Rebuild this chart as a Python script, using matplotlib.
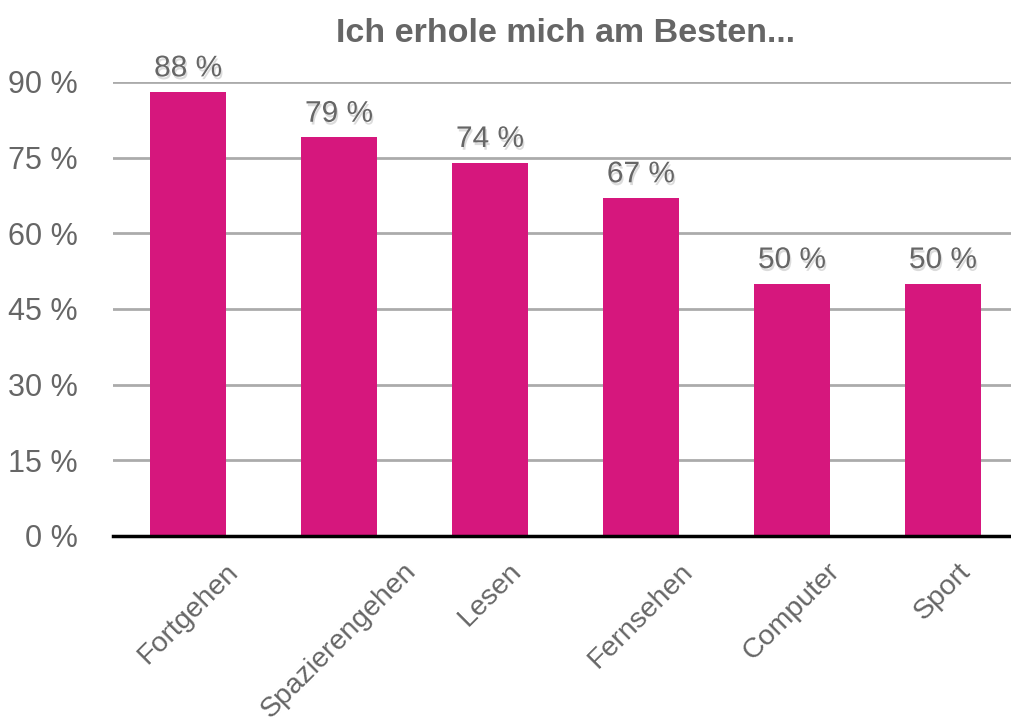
import matplotlib
matplotlib.use("Agg")
import matplotlib.pyplot as plt
import matplotlib.patheffects as pe

categories = ["Fortgehen", "Spazierengehen", "Lesen", "Fernsehen", "Computer", "Sport"]
values = [88, 79, 74, 67, 50, 50]
yticks = [0, 15, 30, 45, 60, 75, 90]
title = "Ich erhole mich am Besten..."

bar_color = "#D6177D"
text_color = "#666666"

plt.rcParams['font.family'] = ['Liberation Sans', 'DejaVu Sans']

fig = plt.figure(figsize=(10.11, 7.18), dpi=100)
ax = fig.add_axes([0.1113, 0.2535, 0.896, 0.6323])

x = list(range(len(categories)))
ax.bar(x, values, width=0.5, color=bar_color, zorder=3)
ax.set_xlim(-0.5, len(categories) - 0.5)
ax.set_ylim(0, 90)

ax.set_yticks(yticks)
ax.set_yticklabels([f"{v} %" for v in yticks], fontsize=22, color=text_color)
ax.yaxis.grid(True, color="#ababab", linewidth=2, zorder=0)
ax.tick_params(axis='y', length=0, pad=25)

ax.set_xticks(x)
ax.set_xticklabels(categories, rotation=45, ha='center', fontsize=20.5, color=text_color)
ax.tick_params(axis='x', length=0, pad=16)

for s in ["left", "right", "top"]:
    ax.spines[s].set_visible(False)
ax.spines["bottom"].set_color("black")
ax.spines["bottom"].set_linewidth(2.5)
ax.spines["bottom"].set_zorder(4)

shadow = [pe.SimplePatchShadow(offset=(1, -2), shadow_rgbFace="#999999", alpha=0.35), pe.Normal()]
for xi, v in zip(x, values):
    ax.annotate(f"{v} %", xy=(xi, v), xytext=(0, 7), textcoords="offset points",
                ha="center", va="bottom", fontsize=21.5, color=text_color,
                path_effects=shadow, zorder=5)

fig.text(0.559, 0.953, title, ha="center", va="center", fontsize=24.5,
         fontweight="bold", color=text_color)

fig.savefig("out.png", dpi=100)
